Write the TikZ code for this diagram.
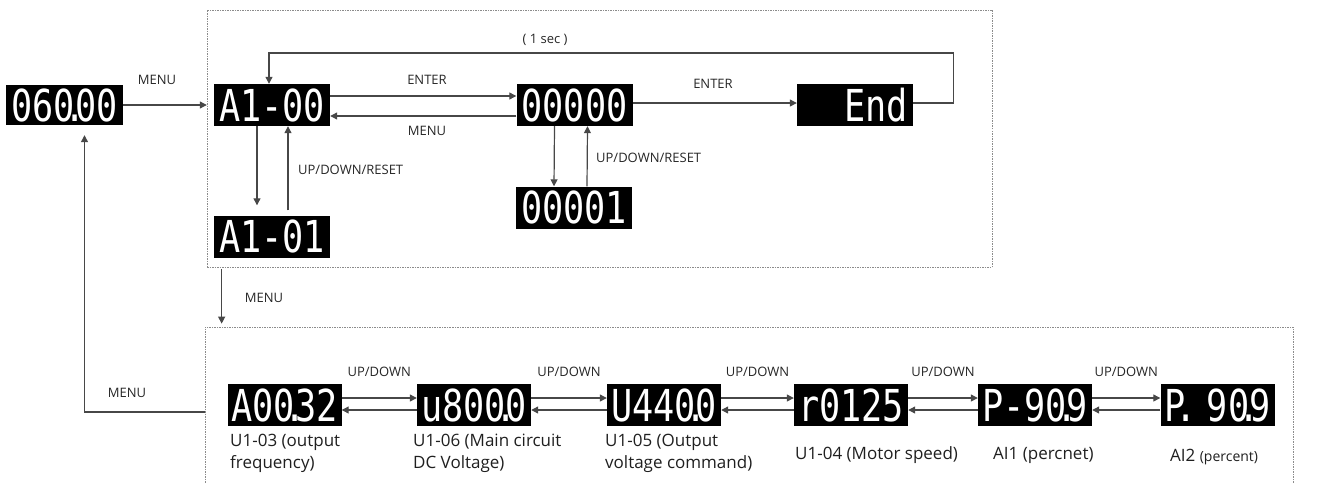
\documentclass[tikz,border=0pt]{standalone}
\usepackage{fontspec}
\setmainfont{Open Sans}
\newfontfamily\segfont[FakeStretch=0.8]{DejaVu Sans Mono}
\usetikzlibrary{arrows.meta, positioning}
\newcommand{\dpt}{\makebox[0pt]{.}}

\begin{document}
\begin{tikzpicture}[x=1pt, y=-1pt,
  disp/.style={fill=black, text=white, inner sep=0pt, minimum width=116pt, minimum height=42pt,
    font=\segfont\fontsize{44}{44}\selectfont},
  dashbox/.style={draw=black!45, dash pattern=on 1.5pt off 1pt, line width=0.7pt, inner sep=0pt},
  arr/.style={draw=black!72, line width=1.2pt, -{Triangle[length=7pt, width=7pt]}},
  key/.style={font=\fontsize{13}{15}\selectfont, text=black!85, inner sep=1pt},
  lbl/.style={font=\fontsize{17}{22}\selectfont, text=black!88, align=left, inner sep=0pt}]
\clip (0,0) rectangle (1327,482);

\node [dashbox, minimum width=785pt, minimum height=257pt] (top) at (599.5,138.5) {};
\node [dashbox, minimum width=1088pt, minimum height=170pt] (bot) at (749,412) {};

\node [disp, minimum width=117pt, minimum height=40pt] (d060) at (64.5,105) {060\dpt00};
\node [disp] (a100) at (272,105) {A1-00};
\node [disp] (z0)   at (574.5,105) {00000};
\node [disp] (endd) at (855,105) {\phantom{00}End};
\node [disp] (a101) at (272,236.5) {A1-01};
\node [disp] (z1)   at (574,207.5) {00001};

\draw [arr] (d060.east) -- ([xshift=-7pt]a100.west);
\node [key] (kmenu1) at (157,80) {MENU};
\draw [arr] ([yshift=9pt]a100.east) -- ([yshift=9pt]z0.west);
\node [key] (kenter1) at (427,80) {ENTER};
\draw [arr] ([yshift=-11pt]z0.west) -- ([yshift=-11pt]a100.east);
\node [key] (kmenu2) at (427,131) {MENU};
\draw [arr] ([yshift=2pt]z0.east) -- ([yshift=2pt]endd.west);
\node [key] (kenter2) at (713,84) {ENTER};
\draw [arr] ([yshift=2pt]endd.east) -| ++(40,-50) -| ([xshift=-3pt]a100.north);
\node [key] (ksec) at (545,40) {( 1 sec )};

\draw [arr, shorten >=10pt] ([xshift=-15pt]a100.south) -- ([xshift=-15pt]a101.north);
\draw [arr, shorten <=5pt] ([xshift=16pt]a101.north) -- ([xshift=16pt]a100.south);
\node [key, anchor=west] (kud1) at (297,170) {UP/DOWN/RESET};
\draw [arr] ([xshift=-20pt]z0.south) -- ([xshift=-20pt]z1.north);
\draw [arr] ([xshift=13pt]z1.north) -- ([xshift=13pt]z0.south);
\node [key, anchor=west] (kud2) at (595,158) {UP/DOWN/RESET};

\draw [arr, shorten <=2pt, shorten >=3pt] ([xshift=15pt]top.south west) -- ([xshift=17pt]bot.north west);
\node [key] (kmenu3) at (264,298) {MENU};
\draw [arr, shorten >=10pt] (bot.west) -| ([xshift=20pt]d060.south);
\node [key] (kmenu4) at (127,393) {MENU};

\foreach \n/\x/\t in {m1/284.5/A00\dpt32, m2/474/u800\dpt0, m3/664/U440\dpt0,
                      m4/851/r0125, m5/1035/P-90\dpt9, m6/1217.5/P\dpt\ 90\dpt9}
  \node [disp, minimum width=114pt] (\n) at (\x,405) {\t};
\foreach \a/\b in {m1/m2, m2/m3, m3/m4, m4/m5, m5/m6} {
  \draw [arr] ([yshift=7pt]\a.east) -- node [key, midway, above=20pt] {UP/DOWN} ([yshift=7pt]\b.west);
  \draw [arr] ([yshift=-5pt]\b.west) -- ([yshift=-5pt]\a.east);
}

\node [lbl, anchor=north west] (t1) at (230,434) {U1-03 (output\\frequency)};
\node [lbl, anchor=north west] (t2) at (413,434) {U1-06 (Main circuit\\DC Voltage)};
\node [lbl, anchor=north west] (t3) at (605,434) {U1-05 (Output\\voltage command)};
\node [lbl, anchor=west] (t4) at (795,455) {U1-04 (Motor speed)};
\node [lbl, anchor=west] (t5) at (993,455) {AI1 (percnet)};
\node [lbl, anchor=west] (t6) at (1170,457) {AI2 {\fontsize{14}{16}\selectfont(percent)}};
\end{tikzpicture}
\end{document}
